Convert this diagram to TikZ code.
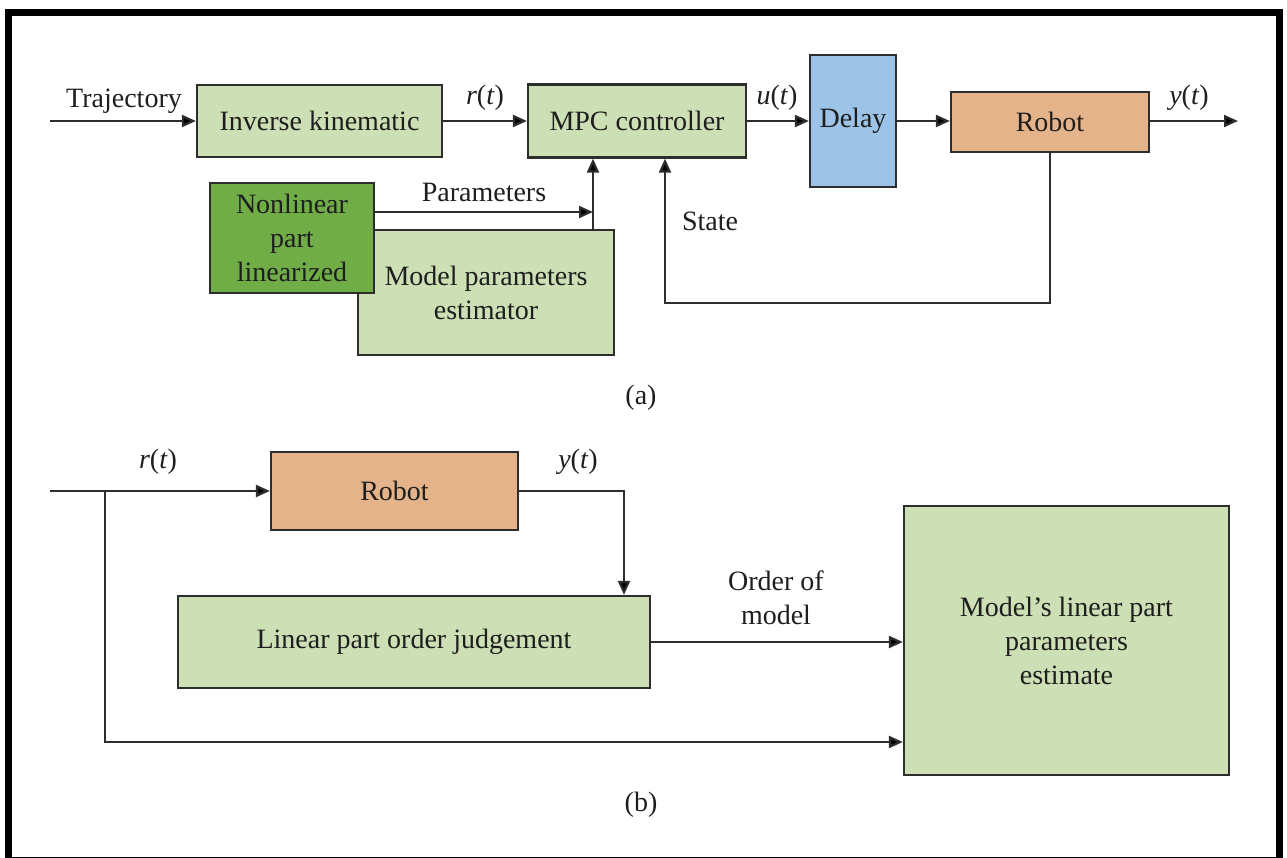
\documentclass[tikz,border=0pt]{standalone}
\usepackage{fontspec}
\setmainfont{Liberation Serif}
\usetikzlibrary{arrows.meta,positioning,calc}
\definecolor{lgreen}{RGB}{205,223,180}
\definecolor{dgreen}{RGB}{112,173,71}
\definecolor{lblue}{RGB}{157,195,230}
\definecolor{lorange}{RGB}{229,179,137}
\definecolor{linegray}{RGB}{45,45,45}
\definecolor{textgray}{RGB}{30,30,30}
\tikzset{
  block/.style={draw=linegray,line width=1.1pt,align=center,inner sep=0pt,
    text=textgray,font=\fontsize{14}{17}\selectfont},
  lbl/.style={text=textgray,align=center,inner sep=1pt,font=\fontsize{14}{17}\selectfont},
  flow/.style={draw=linegray,line width=1.1pt}
}
\begin{document}
\begin{tikzpicture}[x=0.5pt,y=-0.5pt,>={Triangle[length=7pt,width=6pt,fill=black]}]
  \useasboundingbox (0,0) rectangle (1287,858);
  % frame
  \draw[line width=3.5pt] (8.5,861) -- (8.5,12.5) -- (1279.5,12.5) -- (1279.5,861);
  \draw[line width=1pt] (8.5,857.5) -- (1279.5,857.5);

  % (a)
  \node[block,fill=lgreen,minimum width=122.5pt,minimum height=36pt] (ik) at (319.5,121) {Inverse kinematic};
  \node[block,fill=lgreen,minimum width=109pt,minimum height=36.5pt] (mpc) at (637,121) {MPC controller};
  \node[block,fill=lblue,minimum width=43pt,minimum height=66pt] (delay) at (853,121) {Delay};
  \node[block,fill=lorange,minimum width=99pt,minimum height=30pt] (robota) at (1050,122) {Robot};
  \node[block,fill=lgreen,minimum width=128pt,minimum height=62.5pt] (est) at (486,292.5) {Model parameters\\estimator};
  \node[block,fill=dgreen,minimum width=82pt,minimum height=55pt] (nl) at (292,238) {Nonlinear\\part\\linearized};

  \coordinate (tin) at (50,121);
  \coordinate (yout) at (1238,121);
  \coordinate (pj) at (593,212);
  \coordinate (st) at (665,303);

  \draw[flow,->] (tin) -- (ik.west);
  \draw[flow,->] (ik.east) -- (mpc.west);
  \draw[flow,->] (mpc.east) -- (delay.west);
  \draw[flow,->] (delay.east) -- (robota.west |- delay.east);
  \draw[flow,->] (robota.east |- yout) -- (yout);
  \draw[flow,->] (nl.east |- pj) -- (pj);
  \draw[flow,->] (est.north -| pj) -- (mpc.south -| pj);
  \draw[flow,->] (robota.south) |- (st) -- (st |- mpc.south);

  \node[lbl] (ltraj) at (124,101) {Trajectory};
  \node[lbl] (lr) at (485,98) {\textit{r}(\textit{t})};
  \node[lbl] (lu) at (777,98) {\textit{u}(\textit{t})};
  \node[lbl] (ly) at (1189,98) {\textit{y}(\textit{t})};
  \node[lbl] (lpar) at (484,192) {Parameters};
  \node[lbl] (lstate) at (710,221) {State};
  \node[lbl] (la) at (641,398) {(a)};

  % (b)
  \node[block,fill=lorange,minimum width=123.5pt,minimum height=39pt] (robotb) at (394.5,491) {Robot};
  \node[block,fill=lgreen,minimum width=236pt,minimum height=46pt] (lin) at (414,642) {Linear part order judgement};
  \node[block,fill=lgreen,minimum width=162.5pt,minimum height=134.5pt] (mlp) at (1066.5,640.5) {Model's linear part\\parameters\\estimate};

  \coordinate (rin) at (50,491);
  \coordinate (rb) at (105,491);
  \coordinate (rl) at (105,742);
  \coordinate (yb) at (624,491);

  \draw[flow,->] (rin) -- (robotb.west);
  \draw[flow,->] (robotb.east) -- (yb) -- (yb |- lin.north);
  \draw[flow,->] (lin.east) -- (lin.east -| mlp.west);
  \draw[flow,->] (rb) -- (rl) -- (rl -| mlp.west);

  \node[lbl] (lrb) at (158,462) {\textit{r}(\textit{t})};
  \node[lbl] (lyb) at (578,462) {\textit{y}(\textit{t})};
  \node[lbl] (lord) at (776,598) {Order of\\model};
  \node[lbl] (lb) at (641,805) {(b)};
\end{tikzpicture}
\end{document}
